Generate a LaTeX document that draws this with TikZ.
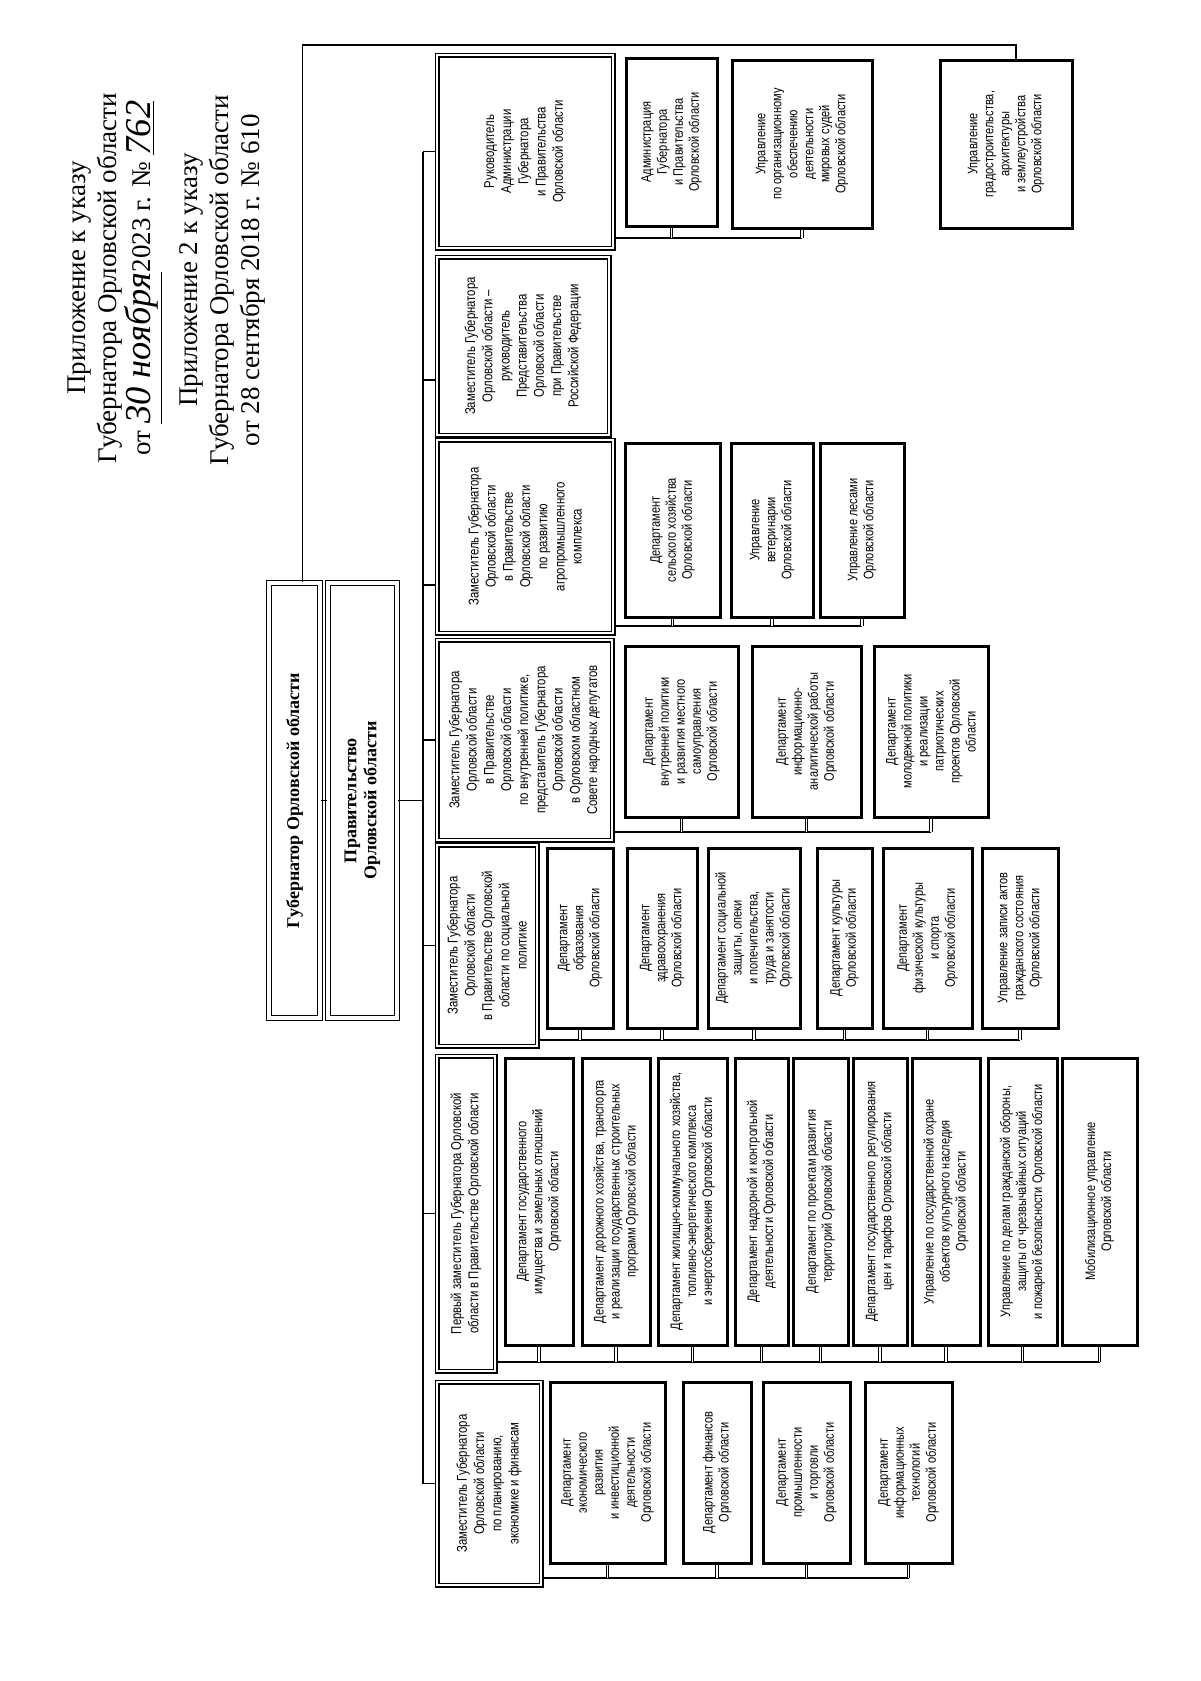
\documentclass[tikz,border=0pt]{standalone}
\usepackage{fontspec}
\setmainfont{Liberation Serif}
\newfontfamily\narrowsf[FakeStretch=0.8]{Liberation Sans}
\newfontfamily\hand{Liberation Serif}[Scale=1.35]
\usepackage{tikz}

\tikzset{
  head/.style={draw, rotate=90, double, double distance=2pt, line width=0.7pt,
    align=center, inner sep=1pt, font=\bfseries\fontsize{9}{10}\selectfont},
  deputy/.style={draw, rotate=90, double, double distance=1.3pt, line width=0.6pt,
    align=center, inner sep=1pt, font=\narrowsf\fontsize{7.1}{8.6}\selectfont},
  unit/.style={draw, rotate=90, line width=1.5pt,
    align=center, inner sep=1pt, font=\narrowsf\fontsize{6.9}{8}\selectfont},
  bus/.style={line width=0.9pt},
  tick/.style={double, double distance=0.9pt, line width=0.35pt},
}

\begin{document}
\begin{tikzpicture}[x=0.5pt, y=-0.5pt]

% Масштаб: 1 пиксель листа = 0.5pt
\def\px{0.5pt}
\useasboundingbox (0,0) rectangle (1200,1681);

% Шапка
\node[rotate=90, align=center, font=\fontsize{13.5}{15.5}\selectfont] (hdrA) at (115,278)
  {Приложение к указу\\Губернатора Орловской области\\
   от \underline{\hand\itshape 30 ноября}2023 г. № \underline{\hand\itshape 762}};
\node[rotate=90, align=center, font=\fontsize{13.5}{15.5}\selectfont] (hdrB) at (222,280)
  {Приложение 2 к указу\\Губернатора Орловской области\\от 28 сентября 2018 г. № 610};

% Губернатор и Правительство
\node[head, minimum width=435*\px, minimum height=51*\px] (gov) at (294.5,800.5) {Губернатор Орловской области};
\node[head, minimum width=435*\px, minimum height=69*\px] (govt) at (362.5,800.5) {Правительство\\Орловской области};

% Заместители
\node[deputy, minimum width=193*\px, minimum height=176*\px] (depR) at (525,151.5)
  {Руководитель\\Администрации\\Губернатора\\и Правительства\\Орловской области};
\node[deputy, minimum width=178*\px, minimum height=172*\px] (depP) at (523,346)
  {Заместитель Губернатора\\Орловской области –\\руководитель\\Представительства\\Орловской области\\при Правительстве\\Российской Федерации};
\node[deputy, minimum width=193*\px, minimum height=176*\px] (depA) at (525,536.5)
  {Заместитель Губернатора\\Орловской области\\в Правительстве\\Орловской области\\по развитию\\агропромышленного\\комплекса};
\node[deputy, minimum width=200*\px, minimum height=175*\px] (depI) at (524.5,740)
  {Заместитель Губернатора\\Орловской области\\в Правительстве\\Орловской области\\по внутренней политике,\\представитель Губернатора\\Орловской области\\в Орловском областном\\Совете народных депутатов};
\node[deputy, minimum width=201*\px, minimum height=100*\px] (depS) at (487,945.5)
  {Заместитель Губернатора\\Орловской области\\в Правительстве Орловской\\области по социальной\\политике};
\node[deputy, minimum width=315*\px, minimum height=58*\px] (depF) at (466,1213.5)
  {Первый заместитель Губернатора Орловской\\области в Правительстве Орловской области};
\node[deputy, minimum width=203*\px, minimum height=104*\px] (depE) at (489,1483.5)
  {Заместитель Губернатора\\Орловской области\\по планированию,\\экономике и финансам};

% Руководитель Администрации
\node[unit, minimum width=168*\px, minimum height=91*\px] (r1) at (671.5,142)
  {Администрация\\Губернатора\\и Правительства\\Орловской области};
\node[unit, minimum width=168*\px, minimum height=140*\px] (r2) at (802,144)
  {Управление\\по организационному\\обеспечению\\деятельности\\мировых судей\\Орловской области};
\node[unit, minimum width=168*\px, minimum height=132*\px] (grad) at (1006,144)
  {Управление\\градостроительства,\\архитектуры\\и землеустройства\\Орловской области};

% АПК
\node[unit, minimum width=174*\px, minimum height=95*\px] (a1) at (672.5,530)
  {Департамент\\сельского хозяйства\\Орловской области};
\node[unit, minimum width=174*\px, minimum height=82*\px] (a2) at (772,530)
  {Управление\\ветеринарии\\Орловской области};
\node[unit, minimum width=174*\px, minimum height=84*\px] (a3) at (862,530)
  {Управление лесами\\Орловской области};

% Внутренняя политика
\node[unit, minimum width=171*\px, minimum height=113*\px] (i1) at (681.5,731.5)
  {Департамент\\внутренней политики\\и развития местного\\самоуправления\\Орловской области};
\node[unit, minimum width=171*\px, minimum height=109*\px] (i2) at (806.5,731.5)
  {Департамент\\информационно-\\аналитической работы\\Орловской области};
\node[unit, minimum width=171*\px, minimum height=114*\px] (i3) at (931,731.5)
  {Департамент\\молодежной политики\\и реализации\\патриотических\\проектов Орловской\\области};

% Социальная политика
\node[unit, minimum width=180*\px, minimum height=66*\px] (s1) at (580,938)
  {Департамент\\образования\\Орловской области};
\node[unit, minimum width=180*\px, minimum height=70*\px] (s2) at (662,938)
  {Департамент\\здравоохранения\\Орловской области};
\node[unit, minimum width=180*\px, minimum height=92*\px] (s3) at (754,938)
  {Департамент социальной\\защиты, опеки\\и попечительства,\\труда и занятости\\Орловской области};
\node[unit, minimum width=180*\px, minimum height=55*\px] (s4) at (844.5,938)
  {Департамент культуры\\Орловской области};
\node[unit, minimum width=180*\px, minimum height=89*\px] (s5) at (927.5,938)
  {Департамент\\физической культуры\\и спорта\\Орловской области};
\node[unit, minimum width=180*\px, minimum height=76*\px] (s6) at (1020,938)
  {Управление записи актов\\гражданского состояния\\Орловской области};

% Первый заместитель
\node[unit, minimum width=287*\px, minimum height=68*\px] (f1) at (539,1201.5)
  {Департамент государственного\\имущества и земельных отношений\\Орловской области};
\node[unit, minimum width=287*\px, minimum height=68*\px] (f2) at (616,1201.5)
  {Департамент дорожного хозяйства, транспорта\\и реализации государственных строительных\\программ Орловской области};
\node[unit, minimum width=287*\px, minimum height=69*\px] (f3) at (692.5,1201.5)
  {Департамент жилищно-коммунального хозяйства,\\топливно-энергетического комплекса\\и энергосбережения Орловской области};
\node[unit, minimum width=287*\px, minimum height=53*\px] (f4) at (761.5,1201.5)
  {Департамент надзорной и контрольной\\деятельности Орловской области};
\node[unit, minimum width=287*\px, minimum height=55*\px] (f5) at (820.5,1201.5)
  {Департамент по проектам развития\\территорий Орловской области};
\node[unit, minimum width=287*\px, minimum height=54*\px] (f6) at (880,1201.5)
  {Департамент государственного регулирования\\цен и тарифов Орловской области};
\node[unit, minimum width=287*\px, minimum height=68*\px] (f7) at (946,1201.5)
  {Управление по государственной охране\\объектов культурного наследия\\Орловской области};
\node[unit, minimum width=287*\px, minimum height=69*\px] (f8) at (1022.5,1201.5)
  {Управление по делам гражданской обороны,\\защиты от чрезвычайных ситуаций\\и пожарной безопасности Орловской области};
\node[unit, minimum width=287*\px, minimum height=75*\px] (f9) at (1099.5,1201.5)
  {Мобилизационное управление\\Орловской области};

% Экономика и финансы
\node[unit, minimum width=181*\px, minimum height=115*\px] (e1) at (607.5,1472.5)
  {Департамент\\экономического\\развития\\и инвестиционной\\деятельности\\Орловской области};
\node[unit, minimum width=181*\px, minimum height=68*\px] (e2) at (717,1472.5)
  {Департамент финансов\\Орловской области};
\node[unit, minimum width=181*\px, minimum height=87*\px] (e3) at (806.5,1472.5)
  {Департамент\\промышленности\\и торговли\\Орловской области};
\node[unit, minimum width=181*\px, minimum height=87*\px] (e4) at (908.5,1472.5)
  {Департамент\\информационных\\технологий\\Орловской области};

% Связи верхнего уровня
\coordinate (topy) at (0,45);
\coordinate (bus) at (423,0);
\coordinate (ptick) at (0,380);
\coordinate (atick) at (0,585);
\draw[bus] ([xshift=4pt]gov.east) |- ([xshift=5pt]topy -| grad.east) -- ([xshift=5pt]grad.east);
\draw[bus] (gov.south) -- (govt.north);
\draw[bus] (govt.south) -- (govt.south -| bus);
\draw[bus] (bus |- depR.north) -- (bus |- depE.north);
\foreach \d in {depR,depI,depS,depF,depE}
  \draw[bus] (bus |- \d.north) -- (\d.north);
\draw[bus] (bus |- ptick) -- (depP.north |- ptick);
\draw[bus] (bus |- atick) -- (depA.north |- atick);

% Шины подразделений
\coordinate (rline) at (0,238);
\coordinate (aline) at (0,626);
\coordinate (iline) at (0,832);
\coordinate (sline) at (0,1040);
\coordinate (fline) at (0,1362);
\coordinate (eline) at (0,1578);

\draw[bus] (depR.south |- rline) -- (rline -| r2.west);
\foreach \b in {r1,r2} \draw[tick] (\b.west) -- (\b.west |- rline);

\draw[bus] (depA.south |- aline) -- (aline -| a3.west);
\foreach \b in {a1,a2,a3} \draw[tick] (\b.west) -- (\b.west |- aline);

\draw[bus] (depI.south |- iline) -- (iline -| i3.west);
\foreach \b in {i1,i2,i3} \draw[tick] (\b.west) -- (\b.west |- iline);

\draw[bus] (depS.south |- sline) -- (sline -| s6.west);
\foreach \b in {s1,s2,s3,s4,s5,s6} \draw[tick] (\b.west) -- (\b.west |- sline);

\draw[bus] (depF.south |- fline) -- (fline -| f9.west);
\foreach \b in {f1,f2,f3,f4,f5,f6,f7,f8,f9} \draw[tick] (\b.west) -- (\b.west |- fline);

\draw[bus] (depE.south |- eline) -- (eline -| e4.west);
\foreach \b in {e1,e2,e3,e4} \draw[tick] (\b.west) -- (\b.west |- eline);

\end{tikzpicture}
\end{document}
